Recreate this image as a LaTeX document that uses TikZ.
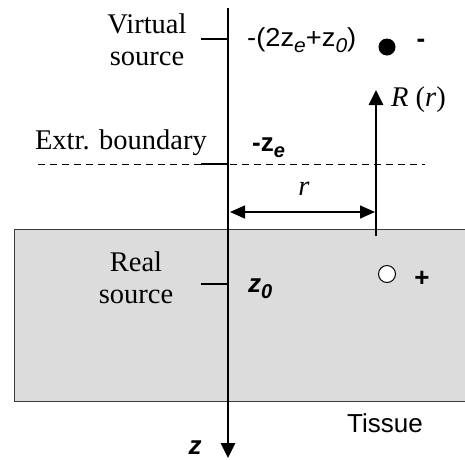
\documentclass[tikz,border=0pt]{standalone}
\usepackage{fontspec}
\setmainfont{Liberation Serif}
\setsansfont{Liberation Sans}
\usetikzlibrary{arrows.meta}
\newcommand{\mysub}[1]{\raisebox{-0.22em}{\fontsize{20}{20}\selectfont\textit{#1}}}
\begin{document}
\begin{tikzpicture}[x=1pt,y=-1pt,
  serif/.style={font=\fontsize{28.5}{32}\selectfont, inner sep=0pt, align=center},
  sans/.style={font=\sffamily\fontsize{26}{30}\selectfont, inner sep=0pt},
  thick axis/.style={line width=2.8pt},
  tip/.style={-{Triangle[length=15pt,width=14pt]}},
]
\useasboundingbox (0,0) rectangle (465,459);
% tissue
\draw[fill={rgb,255:red,220;green,220;blue,220}, draw={rgb,255:red,60;green,60;blue,60}, line width=1pt] (14,229) rectangle (468,401);
% dashed extrapolated boundary
\coordinate (dl) at (38,164);
\coordinate (dr) at (425,164);
\draw[dashed, dash pattern=on 7pt off 5pt, line width=1pt] (dl) -- (dr);
% axis
\coordinate (atop) at (228,8);
\coordinate (abot) at (228,458);
\draw[thick axis, tip] (atop) -- (abot);
% ticks
\coordinate (t1) at (201,39); \coordinate (t1e) at (228,39);
\coordinate (t2) at (201,164); \coordinate (t2e) at (228,164);
\coordinate (t3) at (201,284); \coordinate (t3e) at (228,284);
\draw[thick axis] (t1) -- (t1e);
\draw[thick axis] (t2) -- (t2e);
\draw[thick axis] (t3) -- (t3e);
% detector arrow
\coordinate (rb) at (376,236);
\coordinate (rt) at (376,90);
\draw[thick axis, tip] (rb) -- (rt);
% r arrow
\coordinate (ra) at (230,212);
\coordinate (rz) at (375,212);
\draw[line width=1.5pt, {Triangle[length=15pt,width=13pt]}-{Triangle[length=15pt,width=13pt]}] (ra) -- (rz);
% sources
\node[circle, fill=black, minimum size=17pt, inner sep=0pt] (vs) at (387,47) {};
\node[circle, draw=black, fill=white, line width=1pt, minimum size=17pt, inner sep=0pt] (rs) at (387,274) {};
% labels
\node[serif] (lvirt) at (147,40) {Virtual\\source};
\node[serif, anchor=east] (lextr) at (207,143) {Extr. boundary};
\node[serif] (lreal) at (136,278) {Real\\source};
\node[serif, anchor=west] (lR) at (391,100) {\textit{R} (\textit{r})};
\node[serif] (lr) at (304,189) {\textit{r}};
\node[sans, anchor=west, xscale=1.05] (lvz) at (247,40) {-(2z\mysub{e}+z\mysub{0})};
\node[sans, anchor=west] (lze) at (252,148) {\textbf{-z\mysub{e}}};
\node[sans, anchor=west] (lz0) at (248,289) {\textbf{\textit{z}\mysub{0}}};
\node[sans] (lminus) at (421,43) {\textbf{-}};
\node[sans] (lplus) at (422,279) {\textbf{+}};
\node[sans] (ltis) at (385,423) {Tissue};
\node[sans] (lz) at (195,448) {\textbf{\textit{z}}};
\end{tikzpicture}
\end{document}
